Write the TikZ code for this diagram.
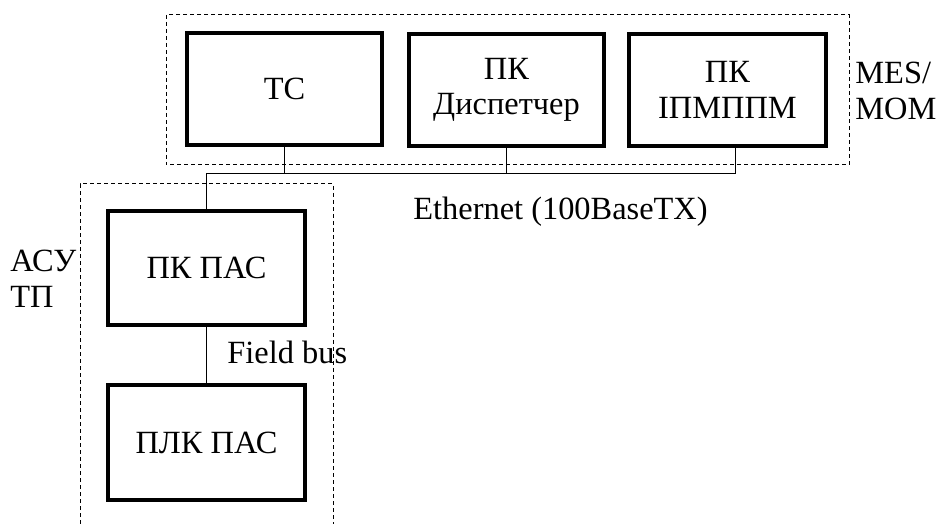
\documentclass[tikz,border=0pt]{standalone}
\usepackage{fontspec}
\setmainfont{Liberation Serif}
\usetikzlibrary{positioning}
\tikzset{
  unit/.style={draw,line width=2pt,minimum width=97.5pt,minimum height=56pt,
               align=center,inner sep=0pt},
  zone/.style={dash pattern=on 2pt off 1.5pt,line width=0.5pt},
  wire/.style={line width=0.5pt},
  lbl/.style={align=left,inner sep=0pt}
}
\begin{document}
\begin{tikzpicture}[x=0.5pt,y=-0.5pt,
  every node/.style={font=\fontsize{16.2}{17.8}\selectfont}]
\useasboundingbox (0,0) rectangle (939,524);

% zones
\draw[zone] (166,15) rectangle (849,165);
\draw[zone] (80,524) -- (80,184) -- (333,184) -- (333,524);

% MES level
\node[unit] (tc)   at (284.5,89) {ТС};
\node[unit] (disp) at (506.5,90) {ПК\\Диспетчер};
\node[unit,minimum width=98.5pt] (ipm) at (727.5,90) {ПК\\ІПМППМ};

% process level
\node[unit,minimum width=98.5pt,minimum height=57pt] (pkpas) at (206.5,268) {ПК ПАС};
\node[unit,minimum width=98.5pt,minimum height=57.5pt] (plk) at (206.5,442.5) {ПЛК ПАС};

% Ethernet bus
\coordinate (busE) at (735,174);
\draw[wire] (pkpas.north) |- (busE) -- (busE |- ipm.south);
\draw[wire] (tc.south) -- (tc.south |- busE);
\draw[wire] (disp.south) -- (disp.south |- busE);
% field bus
\draw[wire] (pkpas.south) -- (plk.north);

% labels
\node[lbl,anchor=base west] (eth) at (413,220) {Ethernet (100BaseTX)};
\node[lbl,anchor=base west] (fb) at (227,364) {Field bus};
\node[lbl,anchor=west] (mes) at (855,91) {MES/\\MOM};
\node[lbl,anchor=west] (asu) at (10,279) {АСУ\\ТП};
\end{tikzpicture}
\end{document}
